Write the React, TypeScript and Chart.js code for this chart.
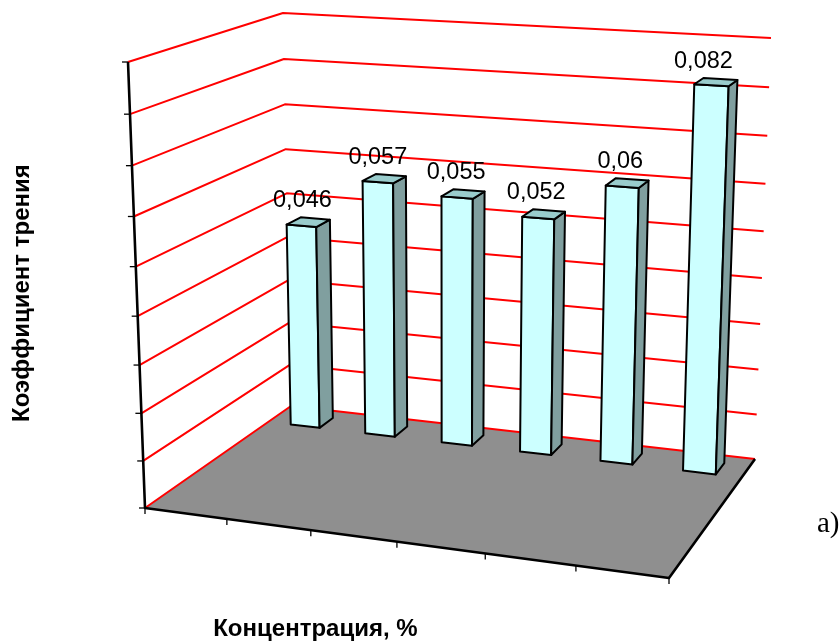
import React, { useEffect, useRef } from "react";
import { Chart, registerables } from "chart.js";

Chart.register(...registerables);

const concentrations = ["1", "2", "3", "4", "5", "6"];
const friction = [0.046, 0.057, 0.055, 0.052, 0.06, 0.082];
const labelShiftX = [1, 0, -1, -2, -2, -8];
const axisTitleY = "Коэффициент трения";
const axisTitleX = "Концентрация, %";
const panelTag = "a)";

type Pt = [number, number];

// Corners of the 3D box: floor and top, front and back.
const box = {
  floorFrontLeft: [145, 508] as Pt,
  floorFrontRight: [669, 578] as Pt,
  floorBackLeft: [291, 406] as Pt,
  floorBackRight: [755, 459] as Pt,
  topFrontLeft: [128, 62] as Pt,
  topFrontRight: [682, 100] as Pt,
  topBackLeft: [283, 13] as Pt,
  topBackRight: [771, 38] as Pt,
};
const foreshortenX = 1.08;
const foreshortenY = 1.06;
const barDepthFront = 0.845;
const barDepthBack = 0.94;

const warp = (t: number, k: number) => t / (t + k * (1 - t));
const mix = (a: Pt, b: Pt, t: number): Pt => [a[0] + (b[0] - a[0]) * t, a[1] + (b[1] - a[1]) * t];

// Maps normalised (across, up, depth) into screen space.
function project(u: number, v: number, d: number): Pt {
  const uu = warp(u, foreshortenX);
  const vv = warp(v, foreshortenY);
  const floorFront = mix(box.floorFrontLeft, box.floorFrontRight, uu);
  const floorBack = mix(box.floorBackLeft, box.floorBackRight, uu);
  const topFront = mix(box.topFrontLeft, box.topFrontRight, uu);
  const topBack = mix(box.topBackLeft, box.topBackRight, uu);
  return mix(mix(floorFront, floorBack, d), mix(topFront, topBack, d), vv);
}

function path(ctx: CanvasRenderingContext2D, pts: Pt[], close = false) {
  ctx.beginPath();
  pts.forEach((p, i) => (i ? ctx.lineTo(p[0], p[1]) : ctx.moveTo(p[0], p[1])));
  if (close) ctx.closePath();
}

const box3d = {
  id: "box3d",
  beforeDatasetsDraw(chart: any) {
    const { ctx, chartArea: a, scales } = chart;
    const toV = (px: number) => (a.bottom - px) / (a.bottom - a.top);
    ctx.save();
    ctx.lineJoin = "round";

    // walls
    ctx.strokeStyle = "#ff0000";
    ctx.lineWidth = 2;
    const values: number[] = scales.y.ticks.map((t: any) => t.value);
    const vs = values.map((val) => toV(scales.y.getPixelForValue(val)));
    vs.forEach((v) => {
      if (v < 0.001) return;
      path(ctx, [project(0, v, 0), project(0, v, 1), project(1, v, 1)]);
      ctx.stroke();
    });

    // floor
    ctx.fillStyle = "#8f8f8f";
    path(ctx, [project(0, 0, 0), project(1, 0, 0), project(1, 0, 1), project(0, 0, 1)], true);
    ctx.fill();
    path(ctx, [project(0, 0, 0), project(0, 0, 1), project(1, 0, 1)]);
    ctx.stroke();
    ctx.restore();
  },
  beforeDatasetDraw() {
    return false;
  },
  afterDatasetsDraw(chart: any) {
    const { ctx, chartArea: a, scales } = chart;
    const W = a.right - a.left;
    const H = a.bottom - a.top;
    const toU = (px: number) => (px - a.left) / W;
    const toV = (px: number) => (a.bottom - px) / H;
    ctx.save();
    ctx.lineJoin = "round";

    // axes and tick marks
    ctx.strokeStyle = "#000";
    ctx.lineWidth = 2.6;
    path(ctx, [project(0, 1, 0), project(0, 0, 0), project(1, 0, 0), project(1, 0, 1)]);
    ctx.stroke();
    ctx.lineWidth = 1.3;
    scales.y.ticks.forEach((t: any) => {
      const p = project(0, toV(scales.y.getPixelForValue(t.value)), 0);
      path(ctx, [p, [p[0] - 6, p[1]]]);
      ctx.stroke();
    });
    const step = W / concentrations.length;
    for (let i = 0; i <= concentrations.length; i++) {
      const p = project((i * step) / W, 0, 0);
      path(ctx, [p, [p[0], p[1] + 6]]);
      ctx.stroke();
    }

    // bars, each as a front, side and top face
    const meta = chart.getDatasetMeta(0);
    meta.data.forEach((el: any, i: number) => {
      const u0 = toU(el.x - el.width / 2);
      const u1 = toU(el.x + el.width / 2);
      const v0 = toV(el.base);
      const v1 = toV(el.y);
      const [df, db] = [barDepthFront, barDepthBack];
      ctx.lineWidth = 2;
      ctx.strokeStyle = "#000";
      const faces: [string, Pt[]][] = [
        ["#ccffff", [project(u0, v0, df), project(u1, v0, df), project(u1, v1, df), project(u0, v1, df)]],
        ["#809f9f", [project(u1, v0, df), project(u1, v0, db), project(u1, v1, db), project(u1, v1, df)]],
        ["#99cccc", [project(u0, v1, df), project(u1, v1, df), project(u1, v1, db), project(u0, v1, db)]],
      ];
      faces.forEach(([fill, pts]) => {
        ctx.fillStyle = fill;
        path(ctx, pts, true);
        ctx.fill();
        ctx.stroke();
      });

      // value above the bar
      const topBack = project(u0, v1, db);
      const topFront = mix(project(u0, v1, df), project(u1, v1, df), 0.5);
      ctx.fillStyle = "#000";
      ctx.font = '23.5px "Liberation Sans"';
      ctx.textAlign = "center";
      ctx.textBaseline = "alphabetic";
      ctx.fillText(String(friction[i]).replace(".", ","), topFront[0] + labelShiftX[i], topBack[1] - 10);
    });

    ctx.fillStyle = "#000";
    ctx.font = '29px "Liberation Serif"';
    ctx.textAlign = "left";
    ctx.fillText(panelTag, 817, 532);
    ctx.restore();
  },
};

export default function App() {
  const ref = useRef<HTMLCanvasElement>(null);
  useEffect(() => {
    const chart = new Chart(ref.current as HTMLCanvasElement, {
      type: "bar",
      data: {
        labels: concentrations,
        datasets: [
          { data: friction, backgroundColor: "#ccffff", categoryPercentage: 1, barPercentage: 0.39 },
        ],
      },
      plugins: [box3d],
      options: {
        responsive: false,
        animation: false,
        layout: { padding: { top: 14, left: 8, right: 260, bottom: 0 } },
        plugins: { legend: { display: false }, tooltip: { enabled: false } },
        scales: {
          x: {
            grid: { display: false },
            border: { display: false },
            ticks: { display: false },
            title: {
              display: true,
              text: axisTitleX,
              color: "#000",
              font: { family: "Liberation Sans", size: 24, weight: "bold" },
              padding: { top: 35, bottom: 0 },
            },
          },
          y: {
            min: 0,
            max: 0.09,
            grid: { display: false },
            border: { display: false },
            ticks: { display: false, stepSize: 0.01 },
            title: {
              display: true,
              text: axisTitleY,
              color: "#000",
              font: { family: "Liberation Sans", size: 24, weight: "bold" },
              padding: { top: 0, bottom: 6 },
            },
          },
        },
      } as any,
    });
    return () => chart.destroy();
  }, []);
  return (
    <canvas
      ref={ref}
      width={840}
      height={644}
      style={{ position: "absolute", left: 0, top: 0, width: 840, height: 644, display: "block" }}
    />
  );
}
